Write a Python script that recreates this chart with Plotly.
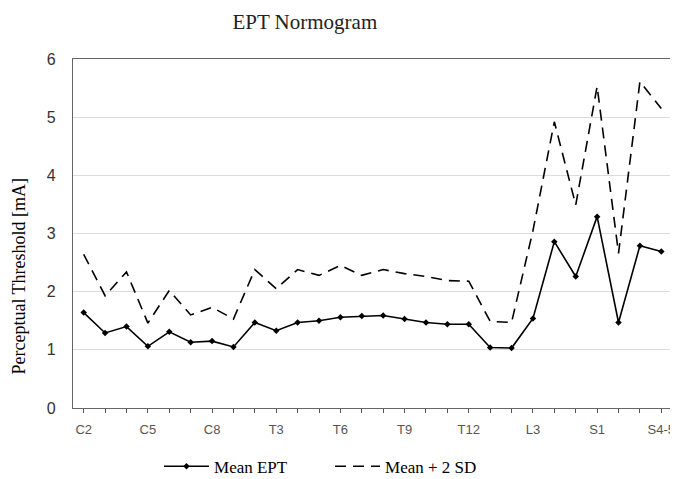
import plotly.graph_objects as go

levels = ["C2", "C3", "C4", "C5", "C6", "C7", "C8",
          "T1", "T2", "T3", "T4", "T5", "T6", "T7", "T8", "T9", "T10", "T11", "T12",
          "L1", "L2", "L3", "L4", "L5", "S1", "S2", "S3", "S4-5"]
mean_ept = [1.64, 1.29, 1.40, 1.06, 1.31, 1.13, 1.15,
            1.05, 1.47, 1.33, 1.47, 1.50, 1.56, 1.58, 1.59, 1.53, 1.47, 1.44, 1.44,
            1.04, 1.03, 1.54, 2.86, 2.26, 3.29, 1.47, 2.79, 2.69]
mean_2sd = [2.64, 1.93, 2.34, 1.46, 2.02, 1.60, 1.73,
            1.53, 2.38, 2.05, 2.38, 2.28, 2.45, 2.28, 2.38, 2.31, 2.26, 2.19, 2.18,
            1.49, 1.47, 3.05, 4.92, 3.49, 5.53, 2.66, 5.61, 5.15]
labeled = ["C2", "C5", "C8", "T3", "T6", "T9", "T12", "L3", "S1", "S4-5"]
tick_text = [l if l in labeled else "" for l in levels]

fig = go.Figure()
fig.add_trace(go.Scatter(
    x=levels, y=mean_ept, name="Mean EPT", mode="lines+markers",
    line=dict(color="black", width=1.6),
    marker=dict(symbol="diamond", size=5, color="black"),
))
fig.add_trace(go.Scatter(
    x=levels, y=mean_2sd, name="Mean + 2 SD", mode="lines",
    line=dict(color="black", width=1.6, dash="11px,7px"),
))

fig.update_layout(
    width=670, height=471,
    margin=dict(l=65, r=6, t=51, b=71, autoexpand=False),
    paper_bgcolor="white", plot_bgcolor="white",
    title=dict(text="EPT Normogram", x=0.443, xanchor="center",
               yref="container", y=0.972, yanchor="middle",
               font=dict(family="Liberation Serif", size=21, color="#222")),
    legend=dict(orientation="h", x=0.1436, xanchor="left",
                yref="container", y=0.026, yanchor="middle",
                font=dict(family="Liberation Serif", size=17, color="black"),
                itemwidth=45, tracegroupgap=0, entrywidthmode="pixels", entrywidth=111),
    showlegend=True,
    annotations=[dict(text="Perceptual Threshold [mA]", textangle=-90,
                      xref="paper", yref="paper", x=-0.0893, y=0.378,
                      xanchor="center", yanchor="middle", showarrow=False,
                      font=dict(family="Liberation Serif", size=18, color="black"))],
)
fig.update_xaxes(
    type="category", range=[-0.5, len(levels) - 0.5],
    tickmode="array", tickvals=levels, ticktext=tick_text,
    ticks="outside", ticklen=4, tickcolor="#555", tickwidth=1,
    ticklabelstandoff=5, ticklabeloverflow="allow", automargin=False,
    showline=True, linecolor="#666", linewidth=1.2, mirror=True,
    showgrid=False,
    tickfont=dict(family="Liberation Sans", size=13, color="#555"),
)
fig.update_yaxes(
    range=[0, 6], dtick=1, showgrid=True, gridcolor="#dcdcdc", gridwidth=1,
    showline=True, linecolor="#666", linewidth=1.2, mirror=True, ticks="",
    ticklabelstandoff=13, zeroline=False, automargin=False,
    tickfont=dict(family="Liberation Sans", size=16, color="#333"),
)
fig.write_html("out.html")
